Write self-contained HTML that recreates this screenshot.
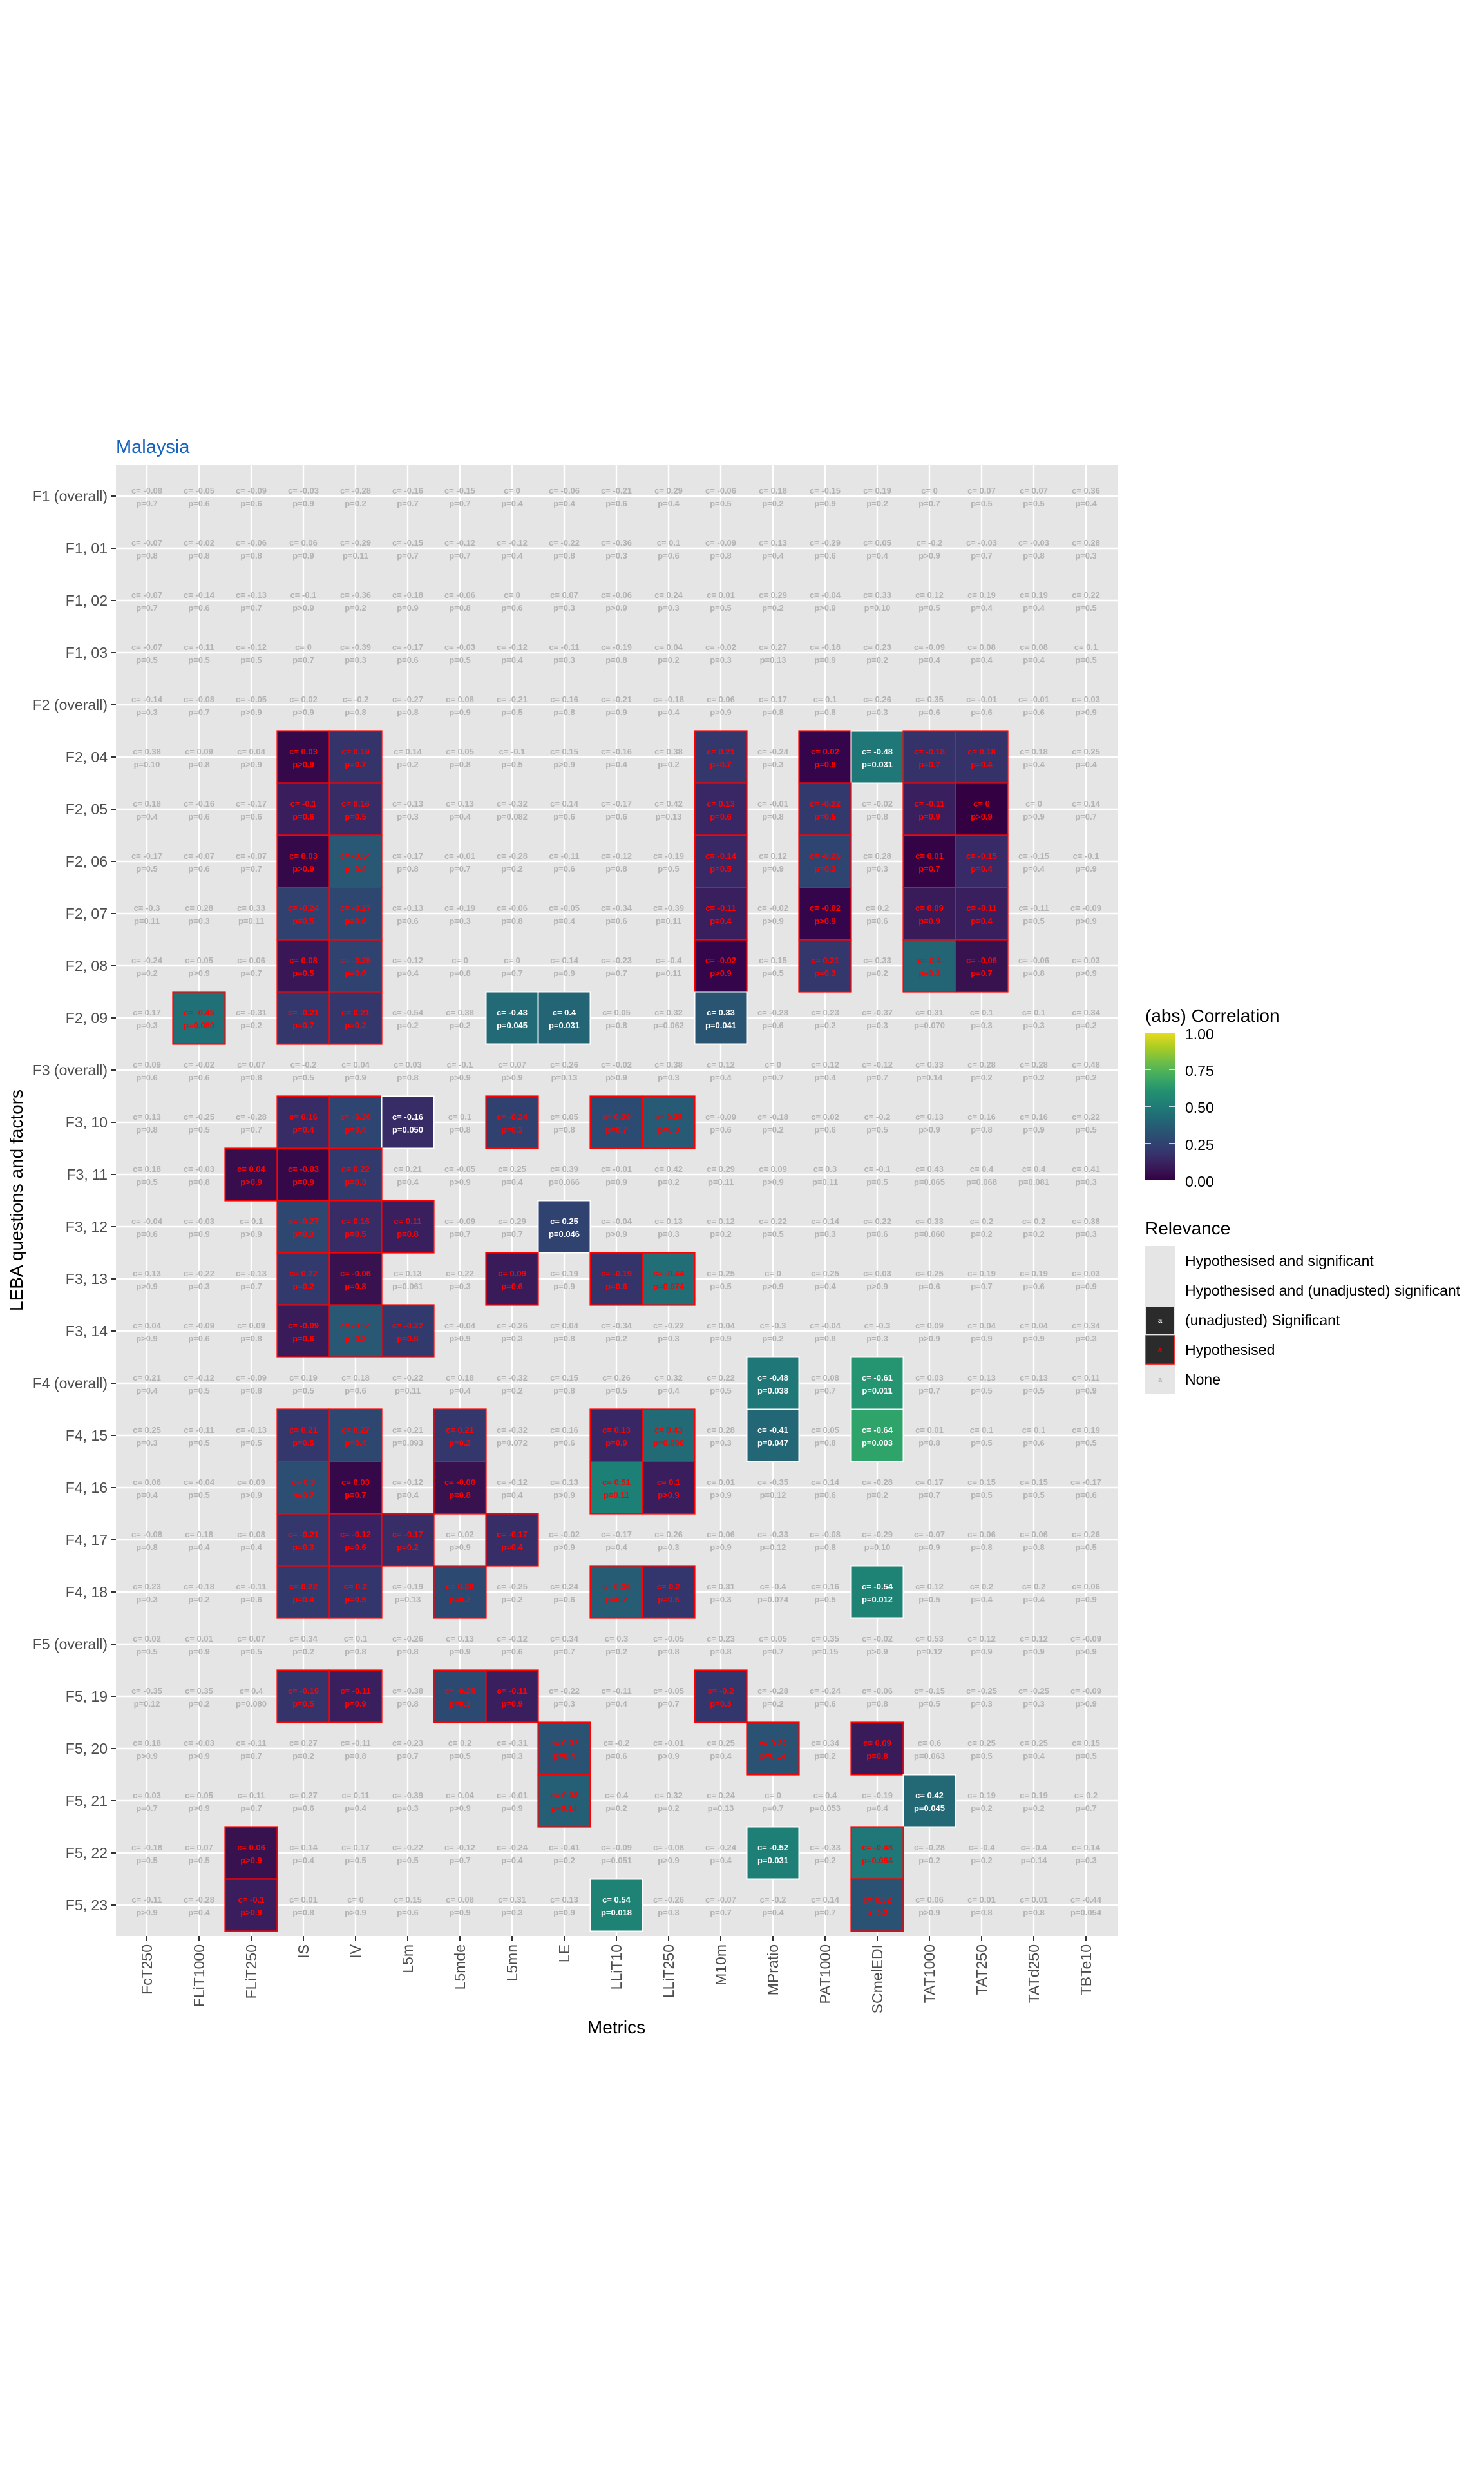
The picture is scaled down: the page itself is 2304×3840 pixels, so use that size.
<!DOCTYPE html>
<html><head><meta charset="utf-8">
<style>
html,body{margin:0;padding:0;background:#fff;}
svg{display:block;}
.g text{font-family:"Liberation Sans",sans-serif;font-size:13px;font-weight:bold;fill:#b3b3b3;text-anchor:middle;}
.g text.r{fill:#ff0000;}
.g text.w{fill:#ffffff;}
.h{stroke:#ff0000;stroke-width:2.2;}
.s{stroke:#ffffff;stroke-width:2;}
.ax{font-family:"Liberation Sans",sans-serif;font-size:23px;fill:#4d4d4d;}
.lg{font-family:"Liberation Sans",sans-serif;fill:#000;}
</style></head><body>
<svg width="2304" height="3840" viewBox="0 0 2304 3840" xmlns="http://www.w3.org/2000/svg">
<rect width="2304" height="3840" fill="#fff"/>
<text x="180" y="703" font-family="Liberation Sans, sans-serif" font-size="29" fill="#1763bd">Malaysia</text>
<rect x="180" y="721" width="1555" height="2284" fill="#e5e5e5"/>
<g stroke="#fff" stroke-width="2.4">
<line x1="228" y1="721" x2="228" y2="3005"/><line x1="309" y1="721" x2="309" y2="3005"/><line x1="390" y1="721" x2="390" y2="3005"/><line x1="471" y1="721" x2="471" y2="3005"/><line x1="552" y1="721" x2="552" y2="3005"/><line x1="633" y1="721" x2="633" y2="3005"/><line x1="714" y1="721" x2="714" y2="3005"/><line x1="795" y1="721" x2="795" y2="3005"/><line x1="876" y1="721" x2="876" y2="3005"/><line x1="957" y1="721" x2="957" y2="3005"/><line x1="1038" y1="721" x2="1038" y2="3005"/><line x1="1119" y1="721" x2="1119" y2="3005"/><line x1="1200" y1="721" x2="1200" y2="3005"/><line x1="1281" y1="721" x2="1281" y2="3005"/><line x1="1362" y1="721" x2="1362" y2="3005"/><line x1="1443" y1="721" x2="1443" y2="3005"/><line x1="1524" y1="721" x2="1524" y2="3005"/><line x1="1605" y1="721" x2="1605" y2="3005"/><line x1="1686" y1="721" x2="1686" y2="3005"/>
<line x1="180" y1="770" x2="1735" y2="770"/><line x1="180" y1="851" x2="1735" y2="851"/><line x1="180" y1="932" x2="1735" y2="932"/><line x1="180" y1="1013" x2="1735" y2="1013"/><line x1="180" y1="1094" x2="1735" y2="1094"/><line x1="180" y1="1175" x2="1735" y2="1175"/><line x1="180" y1="1256" x2="1735" y2="1256"/><line x1="180" y1="1337" x2="1735" y2="1337"/><line x1="180" y1="1418" x2="1735" y2="1418"/><line x1="180" y1="1499" x2="1735" y2="1499"/><line x1="180" y1="1580" x2="1735" y2="1580"/><line x1="180" y1="1661" x2="1735" y2="1661"/><line x1="180" y1="1742" x2="1735" y2="1742"/><line x1="180" y1="1823" x2="1735" y2="1823"/><line x1="180" y1="1904" x2="1735" y2="1904"/><line x1="180" y1="1985" x2="1735" y2="1985"/><line x1="180" y1="2066" x2="1735" y2="2066"/><line x1="180" y1="2147" x2="1735" y2="2147"/><line x1="180" y1="2228" x2="1735" y2="2228"/><line x1="180" y1="2309" x2="1735" y2="2309"/><line x1="180" y1="2390" x2="1735" y2="2390"/><line x1="180" y1="2471" x2="1735" y2="2471"/><line x1="180" y1="2552" x2="1735" y2="2552"/><line x1="180" y1="2633" x2="1735" y2="2633"/><line x1="180" y1="2714" x2="1735" y2="2714"/><line x1="180" y1="2795" x2="1735" y2="2795"/><line x1="180" y1="2876" x2="1735" y2="2876"/><line x1="180" y1="2957" x2="1735" y2="2957"/>
</g>
<!-- tiles -->
<g>
<!-- R5 -->
<rect class="h" x="430.5" y="1134.5" width="81" height="81" fill="#35084a"/><rect class="h" x="511.5" y="1134.5" width="81" height="81" fill="#34336a"/><rect class="h" x="1078.5" y="1134.5" width="81" height="81" fill="#33376c"/><rect class="h" x="1240.5" y="1134.5" width="81" height="81" fill="#34054a"/><rect class="s" x="1321.5" y="1134.5" width="81" height="81" fill="#1f7777"/><rect class="h" x="1402.5" y="1134.5" width="81" height="81" fill="#353169"/><rect class="h" x="1483.5" y="1134.5" width="81" height="81" fill="#353169"/>
<!-- R6 -->
<rect class="h" x="430.5" y="1215.5" width="81" height="81" fill="#3a1d5c"/><rect class="h" x="511.5" y="1215.5" width="81" height="81" fill="#382c67"/><rect class="h" x="1078.5" y="1215.5" width="81" height="81" fill="#392664"/><rect class="h" x="1240.5" y="1215.5" width="81" height="81" fill="#323a6d"/><rect class="h" x="1402.5" y="1215.5" width="81" height="81" fill="#3a1f5e"/><rect class="h" x="1483.5" y="1215.5" width="81" height="81" fill="#330042"/>
<!-- R7 -->
<rect class="h" x="430.5" y="1296.5" width="81" height="81" fill="#35084a"/><rect class="h" x="511.5" y="1296.5" width="81" height="81" fill="#285874"/><rect class="h" x="1078.5" y="1296.5" width="81" height="81" fill="#382866"/><rect class="h" x="1240.5" y="1296.5" width="81" height="81" fill="#2e4471"/><rect class="h" x="1402.5" y="1296.5" width="81" height="81" fill="#330345"/><rect class="h" x="1483.5" y="1296.5" width="81" height="81" fill="#382a66"/>
<!-- R8 -->
<rect class="h" x="430.5" y="1377.5" width="81" height="81" fill="#30406f"/><rect class="h" x="511.5" y="1377.5" width="81" height="81" fill="#2d4771"/><rect class="h" x="1078.5" y="1377.5" width="81" height="81" fill="#3a1f5e"/><rect class="h" x="1240.5" y="1377.5" width="81" height="81" fill="#34054a"/><rect class="h" x="1402.5" y="1377.5" width="81" height="81" fill="#3a1b5a"/><rect class="h" x="1483.5" y="1377.5" width="81" height="81" fill="#3a1f5e"/>
<!-- R9 -->
<rect class="h" x="430.5" y="1458.5" width="81" height="81" fill="#391756"/><rect class="h" x="511.5" y="1458.5" width="81" height="81" fill="#2f4270"/><rect class="h" x="1078.5" y="1458.5" width="81" height="81" fill="#34054a"/><rect class="h" x="1240.5" y="1458.5" width="81" height="81" fill="#33376c"/><rect class="h" x="1402.5" y="1458.5" width="81" height="81" fill="#236475"/><rect class="h" x="1483.5" y="1458.5" width="81" height="81" fill="#38124f"/>
<!-- R10 -->
<rect class="h" x="268.5" y="1539.5" width="81" height="81" fill="#207077"/><rect class="h" x="430.5" y="1539.5" width="81" height="81" fill="#33376c"/><rect class="h" x="511.5" y="1539.5" width="81" height="81" fill="#33376c"/><rect class="s" x="754.5" y="1539.5" width="81" height="81" fill="#226a76"/><rect class="s" x="835.5" y="1539.5" width="81" height="81" fill="#236475"/><rect class="s" x="1078.5" y="1539.5" width="81" height="81" fill="#295572"/>
<!-- R12 -->
<rect class="h" x="430.5" y="1701.5" width="81" height="81" fill="#382c67"/><rect class="h" x="511.5" y="1701.5" width="81" height="81" fill="#2e4471"/><rect class="s" x="592.5" y="1701.5" width="81" height="81" fill="#382c67"/><rect class="h" x="754.5" y="1701.5" width="81" height="81" fill="#30406f"/><rect class="h" x="916.5" y="1701.5" width="81" height="81" fill="#2c4b72"/><rect class="h" x="997.5" y="1701.5" width="81" height="81" fill="#275a74"/>
<!-- R13 -->
<rect class="h" x="349.5" y="1782.5" width="81" height="81" fill="#370d4d"/><rect class="h" x="430.5" y="1782.5" width="81" height="81" fill="#35084a"/><rect class="h" x="511.5" y="1782.5" width="81" height="81" fill="#323a6d"/>
<!-- R14 -->
<rect class="h" x="430.5" y="1863.5" width="81" height="81" fill="#2d4771"/><rect class="h" x="511.5" y="1863.5" width="81" height="81" fill="#382c67"/><rect class="h" x="592.5" y="1863.5" width="81" height="81" fill="#3a1f5e"/><rect class="s" x="835.5" y="1863.5" width="81" height="81" fill="#2f4270"/>
<!-- R15 -->
<rect class="h" x="430.5" y="1944.5" width="81" height="81" fill="#323a6d"/><rect class="h" x="511.5" y="1944.5" width="81" height="81" fill="#38124f"/><rect class="h" x="754.5" y="1944.5" width="81" height="81" fill="#3a1b5a"/><rect class="h" x="916.5" y="1944.5" width="81" height="81" fill="#34336a"/><rect class="h" x="997.5" y="1944.5" width="81" height="81" fill="#216e77"/>
<!-- R16 -->
<rect class="h" x="430.5" y="2025.5" width="81" height="81" fill="#3a1b5a"/><rect class="h" x="511.5" y="2025.5" width="81" height="81" fill="#285874"/><rect class="h" x="592.5" y="2025.5" width="81" height="81" fill="#323a6d"/>
<!-- R17 -->
<rect class="s" x="1159.5" y="2106.5" width="81" height="81" fill="#1f7777"/><rect class="s" x="1321.5" y="2106.5" width="81" height="81" fill="#259470"/>
<!-- R18 -->
<rect class="h" x="430.5" y="2187.5" width="81" height="81" fill="#33376c"/><rect class="h" x="511.5" y="2187.5" width="81" height="81" fill="#2d4771"/><rect class="h" x="673.5" y="2187.5" width="81" height="81" fill="#33376c"/><rect class="h" x="916.5" y="2187.5" width="81" height="81" fill="#392664"/><rect class="h" x="997.5" y="2187.5" width="81" height="81" fill="#226a76"/><rect class="s" x="1159.5" y="2187.5" width="81" height="81" fill="#236675"/><rect class="s" x="1321.5" y="2187.5" width="81" height="81" fill="#2ea36a"/>
<!-- R19 -->
<rect class="h" x="430.5" y="2268.5" width="81" height="81" fill="#2b4e72"/><rect class="h" x="511.5" y="2268.5" width="81" height="81" fill="#35084a"/><rect class="h" x="673.5" y="2268.5" width="81" height="81" fill="#38124f"/><rect class="h" x="916.5" y="2268.5" width="81" height="81" fill="#1d8076"/><rect class="h" x="997.5" y="2268.5" width="81" height="81" fill="#3a1d5c"/>
<!-- R20 -->
<rect class="h" x="430.5" y="2349.5" width="81" height="81" fill="#33376c"/><rect class="h" x="511.5" y="2349.5" width="81" height="81" fill="#392264"/><rect class="h" x="592.5" y="2349.5" width="81" height="81" fill="#372e68"/><rect class="h" x="754.5" y="2349.5" width="81" height="81" fill="#372e68"/>
<!-- R21 -->
<rect class="h" x="430.5" y="2430.5" width="81" height="81" fill="#323a6d"/><rect class="h" x="511.5" y="2430.5" width="81" height="81" fill="#33366c"/><rect class="h" x="673.5" y="2430.5" width="81" height="81" fill="#2c4972"/><rect class="h" x="916.5" y="2430.5" width="81" height="81" fill="#265c74"/><rect class="h" x="997.5" y="2430.5" width="81" height="81" fill="#33366c"/><rect class="s" x="1321.5" y="2430.5" width="81" height="81" fill="#1e8374"/>
<!-- R23 -->
<rect class="h" x="430.5" y="2592.5" width="81" height="81" fill="#34336a"/><rect class="h" x="511.5" y="2592.5" width="81" height="81" fill="#3a1f5e"/><rect class="h" x="673.5" y="2592.5" width="81" height="81" fill="#2c4972"/><rect class="h" x="754.5" y="2592.5" width="81" height="81" fill="#3a1f5e"/><rect class="h" x="1078.5" y="2592.5" width="81" height="81" fill="#33366c"/>
<!-- R24 -->
<rect class="h" x="835.5" y="2673.5" width="81" height="81" fill="#2a5273"/><rect class="h" x="1159.5" y="2673.5" width="81" height="81" fill="#2a5273"/><rect class="h" x="1321.5" y="2673.5" width="81" height="81" fill="#3a1b5a"/>
<!-- R25 -->
<rect class="h" x="835.5" y="2754.5" width="81" height="81" fill="#245f75"/><rect class="s" x="1402.5" y="2754.5" width="81" height="81" fill="#226875"/>
<!-- R26 -->
<rect class="h" x="349.5" y="2835.5" width="81" height="81" fill="#38124f"/><rect class="s" x="1159.5" y="2835.5" width="81" height="81" fill="#1e7f76"/><rect class="h" x="1321.5" y="2835.5" width="81" height="81" fill="#1f7777"/>
<!-- R27 -->
<rect class="h" x="349.5" y="2916.5" width="81" height="81" fill="#3a1d5c"/><rect class="s" x="916.5" y="2916.5" width="81" height="81" fill="#1e8374"/><rect class="h" x="1321.5" y="2916.5" width="81" height="81" fill="#2a5273"/>
</g>
<!-- cell texts -->
<g class="g">
<g transform="translate(0,770)">
<text x="228" y="-4">c= -0.08</text><text x="228" y="16">p=0.7</text><text x="309" y="-4">c= -0.05</text><text x="309" y="16">p=0.6</text><text x="390" y="-4">c= -0.09</text><text x="390" y="16">p=0.6</text><text x="471" y="-4">c= -0.03</text><text x="471" y="16">p=0.9</text><text x="552" y="-4">c= -0.28</text><text x="552" y="16">p=0.2</text><text x="633" y="-4">c= -0.16</text><text x="633" y="16">p=0.7</text><text x="714" y="-4">c= -0.15</text><text x="714" y="16">p=0.7</text><text x="795" y="-4">c= 0</text><text x="795" y="16">p=0.4</text><text x="876" y="-4">c= -0.06</text><text x="876" y="16">p=0.4</text><text x="957" y="-4">c= -0.21</text><text x="957" y="16">p=0.6</text><text x="1038" y="-4">c= 0.29</text><text x="1038" y="16">p=0.4</text><text x="1119" y="-4">c= -0.06</text><text x="1119" y="16">p=0.5</text><text x="1200" y="-4">c= 0.18</text><text x="1200" y="16">p=0.2</text><text x="1281" y="-4">c= -0.15</text><text x="1281" y="16">p=0.9</text><text x="1362" y="-4">c= 0.19</text><text x="1362" y="16">p=0.2</text><text x="1443" y="-4">c= 0</text><text x="1443" y="16">p=0.7</text><text x="1524" y="-4">c= 0.07</text><text x="1524" y="16">p=0.5</text><text x="1605" y="-4">c= 0.07</text><text x="1605" y="16">p=0.5</text><text x="1686" y="-4">c= 0.36</text><text x="1686" y="16">p=0.4</text>
</g>
<g transform="translate(0,851)">
<text x="228" y="-4">c= -0.07</text><text x="228" y="16">p=0.8</text><text x="309" y="-4">c= -0.02</text><text x="309" y="16">p=0.8</text><text x="390" y="-4">c= -0.06</text><text x="390" y="16">p=0.8</text><text x="471" y="-4">c= 0.06</text><text x="471" y="16">p=0.9</text><text x="552" y="-4">c= -0.29</text><text x="552" y="16">p=0.11</text><text x="633" y="-4">c= -0.15</text><text x="633" y="16">p=0.7</text><text x="714" y="-4">c= -0.12</text><text x="714" y="16">p=0.7</text><text x="795" y="-4">c= -0.12</text><text x="795" y="16">p=0.4</text><text x="876" y="-4">c= -0.22</text><text x="876" y="16">p=0.8</text><text x="957" y="-4">c= -0.36</text><text x="957" y="16">p=0.3</text><text x="1038" y="-4">c= 0.1</text><text x="1038" y="16">p=0.6</text><text x="1119" y="-4">c= -0.09</text><text x="1119" y="16">p=0.8</text><text x="1200" y="-4">c= 0.13</text><text x="1200" y="16">p=0.4</text><text x="1281" y="-4">c= -0.29</text><text x="1281" y="16">p=0.6</text><text x="1362" y="-4">c= 0.05</text><text x="1362" y="16">p=0.4</text><text x="1443" y="-4">c= -0.2</text><text x="1443" y="16">p&gt;0.9</text><text x="1524" y="-4">c= -0.03</text><text x="1524" y="16">p=0.7</text><text x="1605" y="-4">c= -0.03</text><text x="1605" y="16">p=0.8</text><text x="1686" y="-4">c= 0.28</text><text x="1686" y="16">p=0.3</text>
</g>
<g transform="translate(0,932)">
<text x="228" y="-4">c= -0.07</text><text x="228" y="16">p=0.7</text><text x="309" y="-4">c= -0.14</text><text x="309" y="16">p=0.6</text><text x="390" y="-4">c= -0.13</text><text x="390" y="16">p=0.7</text><text x="471" y="-4">c= -0.1</text><text x="471" y="16">p&gt;0.9</text><text x="552" y="-4">c= -0.36</text><text x="552" y="16">p=0.2</text><text x="633" y="-4">c= -0.18</text><text x="633" y="16">p=0.9</text><text x="714" y="-4">c= -0.06</text><text x="714" y="16">p=0.8</text><text x="795" y="-4">c= 0</text><text x="795" y="16">p=0.6</text><text x="876" y="-4">c= 0.07</text><text x="876" y="16">p=0.3</text><text x="957" y="-4">c= -0.06</text><text x="957" y="16">p&gt;0.9</text><text x="1038" y="-4">c= 0.24</text><text x="1038" y="16">p=0.3</text><text x="1119" y="-4">c= 0.01</text><text x="1119" y="16">p=0.5</text><text x="1200" y="-4">c= 0.29</text><text x="1200" y="16">p=0.2</text><text x="1281" y="-4">c= -0.04</text><text x="1281" y="16">p&gt;0.9</text><text x="1362" y="-4">c= 0.33</text><text x="1362" y="16">p=0.10</text><text x="1443" y="-4">c= 0.12</text><text x="1443" y="16">p=0.5</text><text x="1524" y="-4">c= 0.19</text><text x="1524" y="16">p=0.4</text><text x="1605" y="-4">c= 0.19</text><text x="1605" y="16">p=0.4</text><text x="1686" y="-4">c= 0.22</text><text x="1686" y="16">p=0.5</text>
</g>
<g transform="translate(0,1013)">
<text x="228" y="-4">c= -0.07</text><text x="228" y="16">p=0.5</text><text x="309" y="-4">c= -0.11</text><text x="309" y="16">p=0.5</text><text x="390" y="-4">c= -0.12</text><text x="390" y="16">p=0.5</text><text x="471" y="-4">c= 0</text><text x="471" y="16">p=0.7</text><text x="552" y="-4">c= -0.39</text><text x="552" y="16">p=0.3</text><text x="633" y="-4">c= -0.17</text><text x="633" y="16">p=0.6</text><text x="714" y="-4">c= -0.03</text><text x="714" y="16">p=0.5</text><text x="795" y="-4">c= -0.12</text><text x="795" y="16">p=0.4</text><text x="876" y="-4">c= -0.11</text><text x="876" y="16">p=0.3</text><text x="957" y="-4">c= -0.19</text><text x="957" y="16">p=0.8</text><text x="1038" y="-4">c= 0.04</text><text x="1038" y="16">p=0.2</text><text x="1119" y="-4">c= -0.02</text><text x="1119" y="16">p=0.3</text><text x="1200" y="-4">c= 0.27</text><text x="1200" y="16">p=0.13</text><text x="1281" y="-4">c= -0.18</text><text x="1281" y="16">p=0.9</text><text x="1362" y="-4">c= 0.23</text><text x="1362" y="16">p=0.2</text><text x="1443" y="-4">c= -0.09</text><text x="1443" y="16">p=0.4</text><text x="1524" y="-4">c= 0.08</text><text x="1524" y="16">p=0.4</text><text x="1605" y="-4">c= 0.08</text><text x="1605" y="16">p=0.4</text><text x="1686" y="-4">c= 0.1</text><text x="1686" y="16">p=0.5</text>
</g>
<g transform="translate(0,1094)">
<text x="228" y="-4">c= -0.14</text><text x="228" y="16">p=0.3</text><text x="309" y="-4">c= -0.08</text><text x="309" y="16">p=0.7</text><text x="390" y="-4">c= -0.05</text><text x="390" y="16">p&gt;0.9</text><text x="471" y="-4">c= 0.02</text><text x="471" y="16">p&gt;0.9</text><text x="552" y="-4">c= -0.2</text><text x="552" y="16">p=0.8</text><text x="633" y="-4">c= -0.27</text><text x="633" y="16">p=0.8</text><text x="714" y="-4">c= 0.08</text><text x="714" y="16">p=0.9</text><text x="795" y="-4">c= -0.21</text><text x="795" y="16">p=0.5</text><text x="876" y="-4">c= 0.16</text><text x="876" y="16">p=0.8</text><text x="957" y="-4">c= -0.21</text><text x="957" y="16">p=0.9</text><text x="1038" y="-4">c= -0.18</text><text x="1038" y="16">p=0.4</text><text x="1119" y="-4">c= 0.06</text><text x="1119" y="16">p&gt;0.9</text><text x="1200" y="-4">c= 0.17</text><text x="1200" y="16">p=0.8</text><text x="1281" y="-4">c= 0.1</text><text x="1281" y="16">p=0.8</text><text x="1362" y="-4">c= 0.26</text><text x="1362" y="16">p=0.3</text><text x="1443" y="-4">c= 0.35</text><text x="1443" y="16">p=0.6</text><text x="1524" y="-4">c= -0.01</text><text x="1524" y="16">p=0.6</text><text x="1605" y="-4">c= -0.01</text><text x="1605" y="16">p=0.6</text><text x="1686" y="-4">c= 0.03</text><text x="1686" y="16">p&gt;0.9</text>
</g>
<g transform="translate(0,1175)">
<text x="228" y="-4">c= 0.38</text><text x="228" y="16">p=0.10</text><text x="309" y="-4">c= 0.09</text><text x="309" y="16">p=0.8</text><text x="390" y="-4">c= 0.04</text><text x="390" y="16">p&gt;0.9</text><text class="r" x="471" y="-4">c= 0.03</text><text class="r" x="471" y="16">p&gt;0.9</text><text class="r" x="552" y="-4">c= 0.19</text><text class="r" x="552" y="16">p=0.7</text><text x="633" y="-4">c= 0.14</text><text x="633" y="16">p=0.2</text><text x="714" y="-4">c= 0.05</text><text x="714" y="16">p=0.8</text><text x="795" y="-4">c= -0.1</text><text x="795" y="16">p=0.5</text><text x="876" y="-4">c= 0.15</text><text x="876" y="16">p&gt;0.9</text><text x="957" y="-4">c= -0.16</text><text x="957" y="16">p=0.4</text><text x="1038" y="-4">c= 0.38</text><text x="1038" y="16">p=0.2</text><text class="r" x="1119" y="-4">c= 0.21</text><text class="r" x="1119" y="16">p=0.7</text><text x="1200" y="-4">c= -0.24</text><text x="1200" y="16">p=0.3</text><text class="r" x="1281" y="-4">c= 0.02</text><text class="r" x="1281" y="16">p=0.8</text><text class="w" x="1362" y="-4">c= -0.48</text><text class="w" x="1362" y="16">p=0.031</text><text class="r" x="1443" y="-4">c= -0.18</text><text class="r" x="1443" y="16">p=0.7</text><text class="r" x="1524" y="-4">c= 0.18</text><text class="r" x="1524" y="16">p=0.4</text><text x="1605" y="-4">c= 0.18</text><text x="1605" y="16">p=0.4</text><text x="1686" y="-4">c= 0.25</text><text x="1686" y="16">p=0.4</text>
</g>
<g transform="translate(0,1256)">
<text x="228" y="-4">c= 0.18</text><text x="228" y="16">p=0.4</text><text x="309" y="-4">c= -0.16</text><text x="309" y="16">p=0.6</text><text x="390" y="-4">c= -0.17</text><text x="390" y="16">p=0.6</text><text class="r" x="471" y="-4">c= -0.1</text><text class="r" x="471" y="16">p=0.6</text><text class="r" x="552" y="-4">c= 0.16</text><text class="r" x="552" y="16">p=0.5</text><text x="633" y="-4">c= -0.13</text><text x="633" y="16">p=0.3</text><text x="714" y="-4">c= 0.13</text><text x="714" y="16">p=0.4</text><text x="795" y="-4">c= -0.32</text><text x="795" y="16">p=0.082</text><text x="876" y="-4">c= 0.14</text><text x="876" y="16">p=0.6</text><text x="957" y="-4">c= -0.17</text><text x="957" y="16">p=0.6</text><text x="1038" y="-4">c= 0.42</text><text x="1038" y="16">p=0.13</text><text class="r" x="1119" y="-4">c= 0.13</text><text class="r" x="1119" y="16">p=0.6</text><text x="1200" y="-4">c= -0.01</text><text x="1200" y="16">p=0.8</text><text class="r" x="1281" y="-4">c= -0.22</text><text class="r" x="1281" y="16">p=0.5</text><text x="1362" y="-4">c= -0.02</text><text x="1362" y="16">p=0.8</text><text class="r" x="1443" y="-4">c= -0.11</text><text class="r" x="1443" y="16">p=0.9</text><text class="r" x="1524" y="-4">c= 0</text><text class="r" x="1524" y="16">p&gt;0.9</text><text x="1605" y="-4">c= 0</text><text x="1605" y="16">p&gt;0.9</text><text x="1686" y="-4">c= 0.14</text><text x="1686" y="16">p=0.7</text>
</g>
<g transform="translate(0,1337)">
<text x="228" y="-4">c= -0.17</text><text x="228" y="16">p=0.5</text><text x="309" y="-4">c= -0.07</text><text x="309" y="16">p=0.6</text><text x="390" y="-4">c= -0.07</text><text x="390" y="16">p=0.7</text><text class="r" x="471" y="-4">c= 0.03</text><text class="r" x="471" y="16">p&gt;0.9</text><text class="r" x="552" y="-4">c= -0.34</text><text class="r" x="552" y="16">p=0.4</text><text x="633" y="-4">c= -0.17</text><text x="633" y="16">p=0.8</text><text x="714" y="-4">c= -0.01</text><text x="714" y="16">p=0.7</text><text x="795" y="-4">c= -0.28</text><text x="795" y="16">p=0.2</text><text x="876" y="-4">c= -0.11</text><text x="876" y="16">p=0.6</text><text x="957" y="-4">c= -0.12</text><text x="957" y="16">p=0.8</text><text x="1038" y="-4">c= -0.19</text><text x="1038" y="16">p=0.5</text><text class="r" x="1119" y="-4">c= -0.14</text><text class="r" x="1119" y="16">p=0.5</text><text x="1200" y="-4">c= 0.12</text><text x="1200" y="16">p=0.9</text><text class="r" x="1281" y="-4">c= -0.26</text><text class="r" x="1281" y="16">p=0.3</text><text x="1362" y="-4">c= 0.28</text><text x="1362" y="16">p=0.3</text><text class="r" x="1443" y="-4">c= 0.01</text><text class="r" x="1443" y="16">p=0.7</text><text class="r" x="1524" y="-4">c= -0.15</text><text class="r" x="1524" y="16">p=0.4</text><text x="1605" y="-4">c= -0.15</text><text x="1605" y="16">p=0.4</text><text x="1686" y="-4">c= -0.1</text><text x="1686" y="16">p=0.9</text>
</g>
<g transform="translate(0,1418)">
<text x="228" y="-4">c= -0.3</text><text x="228" y="16">p=0.11</text><text x="309" y="-4">c= 0.28</text><text x="309" y="16">p=0.3</text><text x="390" y="-4">c= 0.33</text><text x="390" y="16">p=0.11</text><text class="r" x="471" y="-4">c= -0.24</text><text class="r" x="471" y="16">p=0.5</text><text class="r" x="552" y="-4">c= -0.27</text><text class="r" x="552" y="16">p=0.6</text><text x="633" y="-4">c= -0.13</text><text x="633" y="16">p=0.6</text><text x="714" y="-4">c= -0.19</text><text x="714" y="16">p=0.3</text><text x="795" y="-4">c= -0.06</text><text x="795" y="16">p=0.8</text><text x="876" y="-4">c= -0.05</text><text x="876" y="16">p=0.4</text><text x="957" y="-4">c= -0.34</text><text x="957" y="16">p=0.6</text><text x="1038" y="-4">c= -0.39</text><text x="1038" y="16">p=0.11</text><text class="r" x="1119" y="-4">c= -0.11</text><text class="r" x="1119" y="16">p=0.4</text><text x="1200" y="-4">c= -0.02</text><text x="1200" y="16">p&gt;0.9</text><text class="r" x="1281" y="-4">c= -0.02</text><text class="r" x="1281" y="16">p&gt;0.9</text><text x="1362" y="-4">c= 0.2</text><text x="1362" y="16">p=0.6</text><text class="r" x="1443" y="-4">c= 0.09</text><text class="r" x="1443" y="16">p=0.9</text><text class="r" x="1524" y="-4">c= -0.11</text><text class="r" x="1524" y="16">p=0.4</text><text x="1605" y="-4">c= -0.11</text><text x="1605" y="16">p=0.5</text><text x="1686" y="-4">c= -0.09</text><text x="1686" y="16">p&gt;0.9</text>
</g>
<g transform="translate(0,1499)">
<text x="228" y="-4">c= -0.24</text><text x="228" y="16">p=0.2</text><text x="309" y="-4">c= 0.05</text><text x="309" y="16">p&gt;0.9</text><text x="390" y="-4">c= 0.06</text><text x="390" y="16">p=0.7</text><text class="r" x="471" y="-4">c= 0.08</text><text class="r" x="471" y="16">p=0.5</text><text class="r" x="552" y="-4">c= -0.25</text><text class="r" x="552" y="16">p=0.6</text><text x="633" y="-4">c= -0.12</text><text x="633" y="16">p=0.4</text><text x="714" y="-4">c= 0</text><text x="714" y="16">p=0.8</text><text x="795" y="-4">c= 0</text><text x="795" y="16">p=0.7</text><text x="876" y="-4">c= 0.14</text><text x="876" y="16">p=0.9</text><text x="957" y="-4">c= -0.23</text><text x="957" y="16">p=0.7</text><text x="1038" y="-4">c= -0.4</text><text x="1038" y="16">p=0.11</text><text class="r" x="1119" y="-4">c= -0.02</text><text class="r" x="1119" y="16">p&gt;0.9</text><text x="1200" y="-4">c= 0.15</text><text x="1200" y="16">p=0.5</text><text class="r" x="1281" y="-4">c= 0.21</text><text class="r" x="1281" y="16">p=0.3</text><text x="1362" y="-4">c= 0.33</text><text x="1362" y="16">p=0.2</text><text class="r" x="1443" y="-4">c= 0.4</text><text class="r" x="1443" y="16">p=0.3</text><text class="r" x="1524" y="-4">c= -0.06</text><text class="r" x="1524" y="16">p=0.7</text><text x="1605" y="-4">c= -0.06</text><text x="1605" y="16">p=0.8</text><text x="1686" y="-4">c= 0.03</text><text x="1686" y="16">p&gt;0.9</text>
</g>
<g transform="translate(0,1580)">
<text x="228" y="-4">c= 0.17</text><text x="228" y="16">p=0.3</text><text class="r" x="309" y="-4">c= -0.45</text><text class="r" x="309" y="16">p=0.080</text><text x="390" y="-4">c= -0.31</text><text x="390" y="16">p=0.2</text><text class="r" x="471" y="-4">c= -0.21</text><text class="r" x="471" y="16">p=0.7</text><text class="r" x="552" y="-4">c= 0.21</text><text class="r" x="552" y="16">p=0.2</text><text x="633" y="-4">c= -0.54</text><text x="633" y="16">p=0.2</text><text x="714" y="-4">c= 0.38</text><text x="714" y="16">p=0.2</text><text class="w" x="795" y="-4">c= -0.43</text><text class="w" x="795" y="16">p=0.045</text><text class="w" x="876" y="-4">c= 0.4</text><text class="w" x="876" y="16">p=0.031</text><text x="957" y="-4">c= 0.05</text><text x="957" y="16">p=0.8</text><text x="1038" y="-4">c= 0.32</text><text x="1038" y="16">p=0.062</text><text class="w" x="1119" y="-4">c= 0.33</text><text class="w" x="1119" y="16">p=0.041</text><text x="1200" y="-4">c= -0.28</text><text x="1200" y="16">p=0.6</text><text x="1281" y="-4">c= 0.23</text><text x="1281" y="16">p=0.2</text><text x="1362" y="-4">c= -0.37</text><text x="1362" y="16">p=0.3</text><text x="1443" y="-4">c= 0.31</text><text x="1443" y="16">p=0.070</text><text x="1524" y="-4">c= 0.1</text><text x="1524" y="16">p=0.3</text><text x="1605" y="-4">c= 0.1</text><text x="1605" y="16">p=0.3</text><text x="1686" y="-4">c= 0.34</text><text x="1686" y="16">p=0.2</text>
</g>
<g transform="translate(0,1661)">
<text x="228" y="-4">c= 0.09</text><text x="228" y="16">p=0.6</text><text x="309" y="-4">c= -0.02</text><text x="309" y="16">p=0.6</text><text x="390" y="-4">c= 0.07</text><text x="390" y="16">p=0.8</text><text x="471" y="-4">c= -0.2</text><text x="471" y="16">p=0.5</text><text x="552" y="-4">c= 0.04</text><text x="552" y="16">p=0.9</text><text x="633" y="-4">c= 0.03</text><text x="633" y="16">p=0.8</text><text x="714" y="-4">c= -0.1</text><text x="714" y="16">p&gt;0.9</text><text x="795" y="-4">c= 0.07</text><text x="795" y="16">p&gt;0.9</text><text x="876" y="-4">c= 0.26</text><text x="876" y="16">p=0.13</text><text x="957" y="-4">c= -0.02</text><text x="957" y="16">p&gt;0.9</text><text x="1038" y="-4">c= 0.38</text><text x="1038" y="16">p=0.3</text><text x="1119" y="-4">c= 0.12</text><text x="1119" y="16">p=0.4</text><text x="1200" y="-4">c= 0</text><text x="1200" y="16">p=0.7</text><text x="1281" y="-4">c= 0.12</text><text x="1281" y="16">p=0.4</text><text x="1362" y="-4">c= -0.12</text><text x="1362" y="16">p=0.7</text><text x="1443" y="-4">c= 0.33</text><text x="1443" y="16">p=0.14</text><text x="1524" y="-4">c= 0.28</text><text x="1524" y="16">p=0.2</text><text x="1605" y="-4">c= 0.28</text><text x="1605" y="16">p=0.2</text><text x="1686" y="-4">c= 0.48</text><text x="1686" y="16">p=0.2</text>
</g>
<g transform="translate(0,1742)">
<text x="228" y="-4">c= 0.13</text><text x="228" y="16">p=0.8</text><text x="309" y="-4">c= -0.25</text><text x="309" y="16">p=0.5</text><text x="390" y="-4">c= -0.28</text><text x="390" y="16">p=0.7</text><text class="r" x="471" y="-4">c= 0.16</text><text class="r" x="471" y="16">p=0.4</text><text class="r" x="552" y="-4">c= -0.26</text><text class="r" x="552" y="16">p=0.4</text><text class="w" x="633" y="-4">c= -0.16</text><text class="w" x="633" y="16">p=0.050</text><text x="714" y="-4">c= 0.1</text><text x="714" y="16">p=0.8</text><text class="r" x="795" y="-4">c= -0.24</text><text class="r" x="795" y="16">p=0.3</text><text x="876" y="-4">c= 0.05</text><text x="876" y="16">p=0.8</text><text class="r" x="957" y="-4">c= 0.29</text><text class="r" x="957" y="16">p=0.7</text><text class="r" x="1038" y="-4">c= 0.35</text><text class="r" x="1038" y="16">p=0.3</text><text x="1119" y="-4">c= -0.09</text><text x="1119" y="16">p=0.6</text><text x="1200" y="-4">c= -0.18</text><text x="1200" y="16">p=0.2</text><text x="1281" y="-4">c= 0.02</text><text x="1281" y="16">p=0.6</text><text x="1362" y="-4">c= -0.2</text><text x="1362" y="16">p=0.5</text><text x="1443" y="-4">c= 0.13</text><text x="1443" y="16">p&gt;0.9</text><text x="1524" y="-4">c= 0.16</text><text x="1524" y="16">p=0.8</text><text x="1605" y="-4">c= 0.16</text><text x="1605" y="16">p=0.9</text><text x="1686" y="-4">c= 0.22</text><text x="1686" y="16">p=0.5</text>
</g>
<g transform="translate(0,1823)">
<text x="228" y="-4">c= 0.18</text><text x="228" y="16">p=0.5</text><text x="309" y="-4">c= -0.03</text><text x="309" y="16">p=0.8</text><text class="r" x="390" y="-4">c= 0.04</text><text class="r" x="390" y="16">p&gt;0.9</text><text class="r" x="471" y="-4">c= -0.03</text><text class="r" x="471" y="16">p=0.9</text><text class="r" x="552" y="-4">c= 0.22</text><text class="r" x="552" y="16">p=0.3</text><text x="633" y="-4">c= 0.21</text><text x="633" y="16">p=0.4</text><text x="714" y="-4">c= -0.05</text><text x="714" y="16">p&gt;0.9</text><text x="795" y="-4">c= 0.25</text><text x="795" y="16">p=0.4</text><text x="876" y="-4">c= 0.39</text><text x="876" y="16">p=0.066</text><text x="957" y="-4">c= -0.01</text><text x="957" y="16">p=0.9</text><text x="1038" y="-4">c= 0.42</text><text x="1038" y="16">p=0.2</text><text x="1119" y="-4">c= 0.29</text><text x="1119" y="16">p=0.11</text><text x="1200" y="-4">c= 0.09</text><text x="1200" y="16">p&gt;0.9</text><text x="1281" y="-4">c= 0.3</text><text x="1281" y="16">p=0.11</text><text x="1362" y="-4">c= -0.1</text><text x="1362" y="16">p=0.5</text><text x="1443" y="-4">c= 0.43</text><text x="1443" y="16">p=0.065</text><text x="1524" y="-4">c= 0.4</text><text x="1524" y="16">p=0.068</text><text x="1605" y="-4">c= 0.4</text><text x="1605" y="16">p=0.081</text><text x="1686" y="-4">c= 0.41</text><text x="1686" y="16">p=0.3</text>
</g>
<g transform="translate(0,1904)">
<text x="228" y="-4">c= -0.04</text><text x="228" y="16">p=0.6</text><text x="309" y="-4">c= -0.03</text><text x="309" y="16">p=0.9</text><text x="390" y="-4">c= 0.1</text><text x="390" y="16">p&gt;0.9</text><text class="r" x="471" y="-4">c= -0.27</text><text class="r" x="471" y="16">p=0.3</text><text class="r" x="552" y="-4">c= 0.16</text><text class="r" x="552" y="16">p=0.5</text><text class="r" x="633" y="-4">c= 0.11</text><text class="r" x="633" y="16">p=0.8</text><text x="714" y="-4">c= -0.09</text><text x="714" y="16">p=0.7</text><text x="795" y="-4">c= 0.29</text><text x="795" y="16">p=0.7</text><text class="w" x="876" y="-4">c= 0.25</text><text class="w" x="876" y="16">p=0.046</text><text x="957" y="-4">c= -0.04</text><text x="957" y="16">p&gt;0.9</text><text x="1038" y="-4">c= 0.13</text><text x="1038" y="16">p=0.3</text><text x="1119" y="-4">c= 0.12</text><text x="1119" y="16">p=0.2</text><text x="1200" y="-4">c= 0.22</text><text x="1200" y="16">p=0.5</text><text x="1281" y="-4">c= 0.14</text><text x="1281" y="16">p=0.3</text><text x="1362" y="-4">c= 0.22</text><text x="1362" y="16">p=0.6</text><text x="1443" y="-4">c= 0.33</text><text x="1443" y="16">p=0.060</text><text x="1524" y="-4">c= 0.2</text><text x="1524" y="16">p=0.2</text><text x="1605" y="-4">c= 0.2</text><text x="1605" y="16">p=0.2</text><text x="1686" y="-4">c= 0.38</text><text x="1686" y="16">p=0.3</text>
</g>
<g transform="translate(0,1985)">
<text x="228" y="-4">c= 0.13</text><text x="228" y="16">p&gt;0.9</text><text x="309" y="-4">c= -0.22</text><text x="309" y="16">p=0.3</text><text x="390" y="-4">c= -0.13</text><text x="390" y="16">p=0.7</text><text class="r" x="471" y="-4">c= 0.22</text><text class="r" x="471" y="16">p=0.2</text><text class="r" x="552" y="-4">c= -0.06</text><text class="r" x="552" y="16">p=0.8</text><text x="633" y="-4">c= 0.13</text><text x="633" y="16">p=0.061</text><text x="714" y="-4">c= 0.22</text><text x="714" y="16">p=0.3</text><text class="r" x="795" y="-4">c= 0.09</text><text class="r" x="795" y="16">p=0.6</text><text x="876" y="-4">c= 0.19</text><text x="876" y="16">p=0.9</text><text class="r" x="957" y="-4">c= -0.19</text><text class="r" x="957" y="16">p=0.6</text><text class="r" x="1038" y="-4">c= -0.44</text><text class="r" x="1038" y="16">p=0.074</text><text x="1119" y="-4">c= 0.25</text><text x="1119" y="16">p=0.5</text><text x="1200" y="-4">c= 0</text><text x="1200" y="16">p&gt;0.9</text><text x="1281" y="-4">c= 0.25</text><text x="1281" y="16">p=0.4</text><text x="1362" y="-4">c= 0.03</text><text x="1362" y="16">p&gt;0.9</text><text x="1443" y="-4">c= 0.25</text><text x="1443" y="16">p=0.6</text><text x="1524" y="-4">c= 0.19</text><text x="1524" y="16">p=0.7</text><text x="1605" y="-4">c= 0.19</text><text x="1605" y="16">p=0.6</text><text x="1686" y="-4">c= 0.03</text><text x="1686" y="16">p=0.9</text>
</g>
<g transform="translate(0,2066)">
<text x="228" y="-4">c= 0.04</text><text x="228" y="16">p&gt;0.9</text><text x="309" y="-4">c= -0.09</text><text x="309" y="16">p=0.6</text><text x="390" y="-4">c= 0.09</text><text x="390" y="16">p=0.8</text><text class="r" x="471" y="-4">c= -0.09</text><text class="r" x="471" y="16">p=0.6</text><text class="r" x="552" y="-4">c= -0.34</text><text class="r" x="552" y="16">p=0.2</text><text class="r" x="633" y="-4">c= -0.22</text><text class="r" x="633" y="16">p=0.6</text><text x="714" y="-4">c= -0.04</text><text x="714" y="16">p&gt;0.9</text><text x="795" y="-4">c= -0.26</text><text x="795" y="16">p=0.3</text><text x="876" y="-4">c= 0.04</text><text x="876" y="16">p=0.8</text><text x="957" y="-4">c= -0.34</text><text x="957" y="16">p=0.2</text><text x="1038" y="-4">c= -0.22</text><text x="1038" y="16">p=0.3</text><text x="1119" y="-4">c= 0.04</text><text x="1119" y="16">p=0.9</text><text x="1200" y="-4">c= -0.3</text><text x="1200" y="16">p=0.2</text><text x="1281" y="-4">c= -0.04</text><text x="1281" y="16">p=0.8</text><text x="1362" y="-4">c= -0.3</text><text x="1362" y="16">p=0.3</text><text x="1443" y="-4">c= 0.09</text><text x="1443" y="16">p&gt;0.9</text><text x="1524" y="-4">c= 0.04</text><text x="1524" y="16">p=0.9</text><text x="1605" y="-4">c= 0.04</text><text x="1605" y="16">p=0.9</text><text x="1686" y="-4">c= 0.34</text><text x="1686" y="16">p=0.3</text>
</g>
<g transform="translate(0,2147)">
<text x="228" y="-4">c= 0.21</text><text x="228" y="16">p=0.4</text><text x="309" y="-4">c= -0.12</text><text x="309" y="16">p=0.5</text><text x="390" y="-4">c= -0.09</text><text x="390" y="16">p=0.8</text><text x="471" y="-4">c= 0.19</text><text x="471" y="16">p=0.5</text><text x="552" y="-4">c= 0.18</text><text x="552" y="16">p=0.6</text><text x="633" y="-4">c= -0.22</text><text x="633" y="16">p=0.11</text><text x="714" y="-4">c= 0.18</text><text x="714" y="16">p=0.4</text><text x="795" y="-4">c= -0.32</text><text x="795" y="16">p=0.2</text><text x="876" y="-4">c= 0.15</text><text x="876" y="16">p=0.8</text><text x="957" y="-4">c= 0.26</text><text x="957" y="16">p=0.5</text><text x="1038" y="-4">c= 0.32</text><text x="1038" y="16">p=0.4</text><text x="1119" y="-4">c= 0.22</text><text x="1119" y="16">p=0.5</text><text class="w" x="1200" y="-4">c= -0.48</text><text class="w" x="1200" y="16">p=0.038</text><text x="1281" y="-4">c= 0.08</text><text x="1281" y="16">p=0.7</text><text class="w" x="1362" y="-4">c= -0.61</text><text class="w" x="1362" y="16">p=0.011</text><text x="1443" y="-4">c= 0.03</text><text x="1443" y="16">p=0.7</text><text x="1524" y="-4">c= 0.13</text><text x="1524" y="16">p=0.5</text><text x="1605" y="-4">c= 0.13</text><text x="1605" y="16">p=0.5</text><text x="1686" y="-4">c= 0.11</text><text x="1686" y="16">p=0.9</text>
</g>
<g transform="translate(0,2228)">
<text x="228" y="-4">c= 0.25</text><text x="228" y="16">p=0.3</text><text x="309" y="-4">c= -0.11</text><text x="309" y="16">p=0.5</text><text x="390" y="-4">c= -0.13</text><text x="390" y="16">p=0.5</text><text class="r" x="471" y="-4">c= 0.21</text><text class="r" x="471" y="16">p=0.5</text><text class="r" x="552" y="-4">c= 0.27</text><text class="r" x="552" y="16">p=0.4</text><text x="633" y="-4">c= -0.21</text><text x="633" y="16">p=0.093</text><text class="r" x="714" y="-4">c= 0.21</text><text class="r" x="714" y="16">p=0.2</text><text x="795" y="-4">c= -0.32</text><text x="795" y="16">p=0.072</text><text x="876" y="-4">c= 0.16</text><text x="876" y="16">p=0.6</text><text class="r" x="957" y="-4">c= 0.13</text><text class="r" x="957" y="16">p=0.9</text><text class="r" x="1038" y="-4">c= 0.43</text><text class="r" x="1038" y="16">p=0.090</text><text x="1119" y="-4">c= 0.28</text><text x="1119" y="16">p=0.3</text><text class="w" x="1200" y="-4">c= -0.41</text><text class="w" x="1200" y="16">p=0.047</text><text x="1281" y="-4">c= 0.05</text><text x="1281" y="16">p=0.8</text><text class="w" x="1362" y="-4">c= -0.64</text><text class="w" x="1362" y="16">p=0.003</text><text x="1443" y="-4">c= 0.01</text><text x="1443" y="16">p=0.8</text><text x="1524" y="-4">c= 0.1</text><text x="1524" y="16">p=0.5</text><text x="1605" y="-4">c= 0.1</text><text x="1605" y="16">p=0.6</text><text x="1686" y="-4">c= 0.19</text><text x="1686" y="16">p=0.5</text>
</g>
<g transform="translate(0,2309)">
<text x="228" y="-4">c= 0.06</text><text x="228" y="16">p=0.4</text><text x="309" y="-4">c= -0.04</text><text x="309" y="16">p=0.5</text><text x="390" y="-4">c= 0.09</text><text x="390" y="16">p&gt;0.9</text><text class="r" x="471" y="-4">c= 0.3</text><text class="r" x="471" y="16">p=0.2</text><text class="r" x="552" y="-4">c= 0.03</text><text class="r" x="552" y="16">p=0.7</text><text x="633" y="-4">c= -0.12</text><text x="633" y="16">p=0.4</text><text class="r" x="714" y="-4">c= -0.06</text><text class="r" x="714" y="16">p=0.8</text><text x="795" y="-4">c= -0.12</text><text x="795" y="16">p=0.4</text><text x="876" y="-4">c= 0.13</text><text x="876" y="16">p&gt;0.9</text><text class="r" x="957" y="-4">c= 0.51</text><text class="r" x="957" y="16">p=0.11</text><text class="r" x="1038" y="-4">c= 0.1</text><text class="r" x="1038" y="16">p&gt;0.9</text><text x="1119" y="-4">c= 0.01</text><text x="1119" y="16">p&gt;0.9</text><text x="1200" y="-4">c= -0.35</text><text x="1200" y="16">p=0.12</text><text x="1281" y="-4">c= 0.14</text><text x="1281" y="16">p=0.6</text><text x="1362" y="-4">c= -0.28</text><text x="1362" y="16">p=0.2</text><text x="1443" y="-4">c= 0.17</text><text x="1443" y="16">p=0.7</text><text x="1524" y="-4">c= 0.15</text><text x="1524" y="16">p=0.5</text><text x="1605" y="-4">c= 0.15</text><text x="1605" y="16">p=0.5</text><text x="1686" y="-4">c= -0.17</text><text x="1686" y="16">p=0.6</text>
</g>
<g transform="translate(0,2390)">
<text x="228" y="-4">c= -0.08</text><text x="228" y="16">p=0.8</text><text x="309" y="-4">c= 0.18</text><text x="309" y="16">p=0.4</text><text x="390" y="-4">c= 0.08</text><text x="390" y="16">p=0.4</text><text class="r" x="471" y="-4">c= -0.21</text><text class="r" x="471" y="16">p=0.3</text><text class="r" x="552" y="-4">c= -0.12</text><text class="r" x="552" y="16">p=0.6</text><text class="r" x="633" y="-4">c= -0.17</text><text class="r" x="633" y="16">p=0.2</text><text x="714" y="-4">c= 0.02</text><text x="714" y="16">p&gt;0.9</text><text class="r" x="795" y="-4">c= -0.17</text><text class="r" x="795" y="16">p=0.4</text><text x="876" y="-4">c= -0.02</text><text x="876" y="16">p&gt;0.9</text><text x="957" y="-4">c= -0.17</text><text x="957" y="16">p=0.4</text><text x="1038" y="-4">c= 0.26</text><text x="1038" y="16">p=0.3</text><text x="1119" y="-4">c= 0.06</text><text x="1119" y="16">p&gt;0.9</text><text x="1200" y="-4">c= -0.33</text><text x="1200" y="16">p=0.12</text><text x="1281" y="-4">c= -0.08</text><text x="1281" y="16">p=0.8</text><text x="1362" y="-4">c= -0.29</text><text x="1362" y="16">p=0.10</text><text x="1443" y="-4">c= -0.07</text><text x="1443" y="16">p=0.9</text><text x="1524" y="-4">c= 0.06</text><text x="1524" y="16">p=0.8</text><text x="1605" y="-4">c= 0.06</text><text x="1605" y="16">p=0.8</text><text x="1686" y="-4">c= 0.26</text><text x="1686" y="16">p=0.5</text>
</g>
<g transform="translate(0,2471)">
<text x="228" y="-4">c= 0.23</text><text x="228" y="16">p=0.3</text><text x="309" y="-4">c= -0.18</text><text x="309" y="16">p=0.2</text><text x="390" y="-4">c= -0.11</text><text x="390" y="16">p=0.6</text><text class="r" x="471" y="-4">c= 0.22</text><text class="r" x="471" y="16">p=0.4</text><text class="r" x="552" y="-4">c= 0.2</text><text class="r" x="552" y="16">p=0.5</text><text x="633" y="-4">c= -0.19</text><text x="633" y="16">p=0.13</text><text class="r" x="714" y="-4">c= 0.28</text><text class="r" x="714" y="16">p=0.2</text><text x="795" y="-4">c= -0.25</text><text x="795" y="16">p=0.2</text><text x="876" y="-4">c= 0.24</text><text x="876" y="16">p=0.6</text><text class="r" x="957" y="-4">c= 0.36</text><text class="r" x="957" y="16">p=0.2</text><text class="r" x="1038" y="-4">c= 0.2</text><text class="r" x="1038" y="16">p=0.6</text><text x="1119" y="-4">c= 0.31</text><text x="1119" y="16">p=0.3</text><text x="1200" y="-4">c= -0.4</text><text x="1200" y="16">p=0.074</text><text x="1281" y="-4">c= 0.16</text><text x="1281" y="16">p=0.5</text><text class="w" x="1362" y="-4">c= -0.54</text><text class="w" x="1362" y="16">p=0.012</text><text x="1443" y="-4">c= 0.12</text><text x="1443" y="16">p=0.5</text><text x="1524" y="-4">c= 0.2</text><text x="1524" y="16">p=0.4</text><text x="1605" y="-4">c= 0.2</text><text x="1605" y="16">p=0.4</text><text x="1686" y="-4">c= 0.06</text><text x="1686" y="16">p=0.9</text>
</g>
<g transform="translate(0,2552)">
<text x="228" y="-4">c= 0.02</text><text x="228" y="16">p=0.5</text><text x="309" y="-4">c= 0.01</text><text x="309" y="16">p=0.9</text><text x="390" y="-4">c= 0.07</text><text x="390" y="16">p=0.5</text><text x="471" y="-4">c= 0.34</text><text x="471" y="16">p=0.2</text><text x="552" y="-4">c= 0.1</text><text x="552" y="16">p=0.8</text><text x="633" y="-4">c= -0.26</text><text x="633" y="16">p=0.8</text><text x="714" y="-4">c= 0.13</text><text x="714" y="16">p=0.9</text><text x="795" y="-4">c= -0.12</text><text x="795" y="16">p=0.6</text><text x="876" y="-4">c= 0.34</text><text x="876" y="16">p=0.7</text><text x="957" y="-4">c= 0.3</text><text x="957" y="16">p=0.2</text><text x="1038" y="-4">c= -0.05</text><text x="1038" y="16">p=0.8</text><text x="1119" y="-4">c= 0.23</text><text x="1119" y="16">p=0.8</text><text x="1200" y="-4">c= 0.05</text><text x="1200" y="16">p=0.7</text><text x="1281" y="-4">c= 0.35</text><text x="1281" y="16">p=0.15</text><text x="1362" y="-4">c= -0.02</text><text x="1362" y="16">p&gt;0.9</text><text x="1443" y="-4">c= 0.53</text><text x="1443" y="16">p=0.12</text><text x="1524" y="-4">c= 0.12</text><text x="1524" y="16">p=0.9</text><text x="1605" y="-4">c= 0.12</text><text x="1605" y="16">p=0.9</text><text x="1686" y="-4">c= -0.09</text><text x="1686" y="16">p&gt;0.9</text>
</g>
<g transform="translate(0,2633)">
<text x="228" y="-4">c= -0.35</text><text x="228" y="16">p=0.12</text><text x="309" y="-4">c= 0.35</text><text x="309" y="16">p=0.2</text><text x="390" y="-4">c= 0.4</text><text x="390" y="16">p=0.080</text><text class="r" x="471" y="-4">c= -0.19</text><text class="r" x="471" y="16">p=0.5</text><text class="r" x="552" y="-4">c= -0.11</text><text class="r" x="552" y="16">p=0.9</text><text x="633" y="-4">c= -0.38</text><text x="633" y="16">p=0.8</text><text class="r" x="714" y="-4">c= -0.28</text><text class="r" x="714" y="16">p=0.3</text><text class="r" x="795" y="-4">c= -0.11</text><text class="r" x="795" y="16">p=0.9</text><text x="876" y="-4">c= -0.22</text><text x="876" y="16">p=0.3</text><text x="957" y="-4">c= -0.11</text><text x="957" y="16">p=0.4</text><text x="1038" y="-4">c= -0.05</text><text x="1038" y="16">p=0.7</text><text class="r" x="1119" y="-4">c= -0.2</text><text class="r" x="1119" y="16">p=0.3</text><text x="1200" y="-4">c= -0.28</text><text x="1200" y="16">p=0.2</text><text x="1281" y="-4">c= -0.24</text><text x="1281" y="16">p=0.6</text><text x="1362" y="-4">c= -0.06</text><text x="1362" y="16">p=0.8</text><text x="1443" y="-4">c= -0.15</text><text x="1443" y="16">p=0.5</text><text x="1524" y="-4">c= -0.25</text><text x="1524" y="16">p=0.3</text><text x="1605" y="-4">c= -0.25</text><text x="1605" y="16">p=0.3</text><text x="1686" y="-4">c= -0.09</text><text x="1686" y="16">p&gt;0.9</text>
</g>
<g transform="translate(0,2714)">
<text x="228" y="-4">c= 0.18</text><text x="228" y="16">p&gt;0.9</text><text x="309" y="-4">c= -0.03</text><text x="309" y="16">p&gt;0.9</text><text x="390" y="-4">c= -0.11</text><text x="390" y="16">p=0.7</text><text x="471" y="-4">c= 0.27</text><text x="471" y="16">p=0.2</text><text x="552" y="-4">c= -0.11</text><text x="552" y="16">p=0.8</text><text x="633" y="-4">c= -0.23</text><text x="633" y="16">p=0.7</text><text x="714" y="-4">c= 0.2</text><text x="714" y="16">p=0.5</text><text x="795" y="-4">c= -0.31</text><text x="795" y="16">p=0.3</text><text class="r" x="876" y="-4">c= 0.32</text><text class="r" x="876" y="16">p=0.4</text><text x="957" y="-4">c= -0.2</text><text x="957" y="16">p=0.6</text><text x="1038" y="-4">c= -0.01</text><text x="1038" y="16">p&gt;0.9</text><text x="1119" y="-4">c= 0.25</text><text x="1119" y="16">p=0.4</text><text class="r" x="1200" y="-4">c= 0.32</text><text class="r" x="1200" y="16">p=0.14</text><text x="1281" y="-4">c= 0.34</text><text x="1281" y="16">p=0.2</text><text class="r" x="1362" y="-4">c= 0.09</text><text class="r" x="1362" y="16">p=0.8</text><text x="1443" y="-4">c= 0.6</text><text x="1443" y="16">p=0.063</text><text x="1524" y="-4">c= 0.25</text><text x="1524" y="16">p=0.5</text><text x="1605" y="-4">c= 0.25</text><text x="1605" y="16">p=0.4</text><text x="1686" y="-4">c= 0.15</text><text x="1686" y="16">p=0.5</text>
</g>
<g transform="translate(0,2795)">
<text x="228" y="-4">c= 0.03</text><text x="228" y="16">p=0.7</text><text x="309" y="-4">c= 0.05</text><text x="309" y="16">p&gt;0.9</text><text x="390" y="-4">c= 0.11</text><text x="390" y="16">p=0.7</text><text x="471" y="-4">c= 0.27</text><text x="471" y="16">p=0.6</text><text x="552" y="-4">c= 0.11</text><text x="552" y="16">p=0.4</text><text x="633" y="-4">c= -0.39</text><text x="633" y="16">p=0.3</text><text x="714" y="-4">c= 0.04</text><text x="714" y="16">p&gt;0.9</text><text x="795" y="-4">c= -0.01</text><text x="795" y="16">p=0.9</text><text class="r" x="876" y="-4">c= 0.38</text><text class="r" x="876" y="16">p=0.14</text><text x="957" y="-4">c= 0.4</text><text x="957" y="16">p=0.2</text><text x="1038" y="-4">c= 0.32</text><text x="1038" y="16">p=0.2</text><text x="1119" y="-4">c= 0.24</text><text x="1119" y="16">p=0.13</text><text x="1200" y="-4">c= 0</text><text x="1200" y="16">p=0.7</text><text x="1281" y="-4">c= 0.4</text><text x="1281" y="16">p=0.053</text><text x="1362" y="-4">c= -0.19</text><text x="1362" y="16">p=0.4</text><text class="w" x="1443" y="-4">c= 0.42</text><text class="w" x="1443" y="16">p=0.045</text><text x="1524" y="-4">c= 0.19</text><text x="1524" y="16">p=0.2</text><text x="1605" y="-4">c= 0.19</text><text x="1605" y="16">p=0.2</text><text x="1686" y="-4">c= 0.2</text><text x="1686" y="16">p=0.7</text>
</g>
<g transform="translate(0,2876)">
<text x="228" y="-4">c= -0.18</text><text x="228" y="16">p=0.5</text><text x="309" y="-4">c= 0.07</text><text x="309" y="16">p=0.5</text><text class="r" x="390" y="-4">c= 0.06</text><text class="r" x="390" y="16">p&gt;0.9</text><text x="471" y="-4">c= 0.14</text><text x="471" y="16">p=0.4</text><text x="552" y="-4">c= 0.17</text><text x="552" y="16">p=0.5</text><text x="633" y="-4">c= -0.22</text><text x="633" y="16">p=0.5</text><text x="714" y="-4">c= -0.12</text><text x="714" y="16">p=0.7</text><text x="795" y="-4">c= -0.24</text><text x="795" y="16">p=0.4</text><text x="876" y="-4">c= -0.41</text><text x="876" y="16">p=0.2</text><text x="957" y="-4">c= -0.09</text><text x="957" y="16">p=0.051</text><text x="1038" y="-4">c= -0.08</text><text x="1038" y="16">p&gt;0.9</text><text x="1119" y="-4">c= -0.24</text><text x="1119" y="16">p=0.4</text><text class="w" x="1200" y="-4">c= -0.52</text><text class="w" x="1200" y="16">p=0.031</text><text x="1281" y="-4">c= -0.33</text><text x="1281" y="16">p=0.2</text><text class="r" x="1362" y="-4">c= -0.48</text><text class="r" x="1362" y="16">p=0.064</text><text x="1443" y="-4">c= -0.28</text><text x="1443" y="16">p=0.2</text><text x="1524" y="-4">c= -0.4</text><text x="1524" y="16">p=0.2</text><text x="1605" y="-4">c= -0.4</text><text x="1605" y="16">p=0.14</text><text x="1686" y="-4">c= 0.14</text><text x="1686" y="16">p=0.3</text>
</g>
<g transform="translate(0,2957)">
<text x="228" y="-4">c= -0.11</text><text x="228" y="16">p&gt;0.9</text><text x="309" y="-4">c= -0.28</text><text x="309" y="16">p=0.4</text><text class="r" x="390" y="-4">c= -0.1</text><text class="r" x="390" y="16">p&gt;0.9</text><text x="471" y="-4">c= 0.01</text><text x="471" y="16">p=0.8</text><text x="552" y="-4">c= 0</text><text x="552" y="16">p&gt;0.9</text><text x="633" y="-4">c= 0.15</text><text x="633" y="16">p=0.6</text><text x="714" y="-4">c= 0.08</text><text x="714" y="16">p=0.9</text><text x="795" y="-4">c= 0.31</text><text x="795" y="16">p=0.3</text><text x="876" y="-4">c= 0.13</text><text x="876" y="16">p=0.9</text><text class="w" x="957" y="-4">c= 0.54</text><text class="w" x="957" y="16">p=0.018</text><text x="1038" y="-4">c= -0.26</text><text x="1038" y="16">p=0.3</text><text x="1119" y="-4">c= -0.07</text><text x="1119" y="16">p=0.7</text><text x="1200" y="-4">c= -0.2</text><text x="1200" y="16">p=0.4</text><text x="1281" y="-4">c= 0.14</text><text x="1281" y="16">p=0.7</text><text class="r" x="1362" y="-4">c= 0.32</text><text class="r" x="1362" y="16">p=0.2</text><text x="1443" y="-4">c= 0.06</text><text x="1443" y="16">p&gt;0.9</text><text x="1524" y="-4">c= 0.01</text><text x="1524" y="16">p=0.8</text><text x="1605" y="-4">c= 0.01</text><text x="1605" y="16">p=0.8</text><text x="1686" y="-4">c= -0.44</text><text x="1686" y="16">p=0.054</text>
</g>
</g>
<!-- y axis -->
<g stroke="#333" stroke-width="2">
<line x1="173" y1="770" x2="180" y2="770"/><line x1="173" y1="851" x2="180" y2="851"/><line x1="173" y1="932" x2="180" y2="932"/><line x1="173" y1="1013" x2="180" y2="1013"/><line x1="173" y1="1094" x2="180" y2="1094"/><line x1="173" y1="1175" x2="180" y2="1175"/><line x1="173" y1="1256" x2="180" y2="1256"/><line x1="173" y1="1337" x2="180" y2="1337"/><line x1="173" y1="1418" x2="180" y2="1418"/><line x1="173" y1="1499" x2="180" y2="1499"/><line x1="173" y1="1580" x2="180" y2="1580"/><line x1="173" y1="1661" x2="180" y2="1661"/><line x1="173" y1="1742" x2="180" y2="1742"/><line x1="173" y1="1823" x2="180" y2="1823"/><line x1="173" y1="1904" x2="180" y2="1904"/><line x1="173" y1="1985" x2="180" y2="1985"/><line x1="173" y1="2066" x2="180" y2="2066"/><line x1="173" y1="2147" x2="180" y2="2147"/><line x1="173" y1="2228" x2="180" y2="2228"/><line x1="173" y1="2309" x2="180" y2="2309"/><line x1="173" y1="2390" x2="180" y2="2390"/><line x1="173" y1="2471" x2="180" y2="2471"/><line x1="173" y1="2552" x2="180" y2="2552"/><line x1="173" y1="2633" x2="180" y2="2633"/><line x1="173" y1="2714" x2="180" y2="2714"/><line x1="173" y1="2795" x2="180" y2="2795"/><line x1="173" y1="2876" x2="180" y2="2876"/><line x1="173" y1="2957" x2="180" y2="2957"/>
<line x1="228" y1="3005" x2="228" y2="3012"/><line x1="309" y1="3005" x2="309" y2="3012"/><line x1="390" y1="3005" x2="390" y2="3012"/><line x1="471" y1="3005" x2="471" y2="3012"/><line x1="552" y1="3005" x2="552" y2="3012"/><line x1="633" y1="3005" x2="633" y2="3012"/><line x1="714" y1="3005" x2="714" y2="3012"/><line x1="795" y1="3005" x2="795" y2="3012"/><line x1="876" y1="3005" x2="876" y2="3012"/><line x1="957" y1="3005" x2="957" y2="3012"/><line x1="1038" y1="3005" x2="1038" y2="3012"/><line x1="1119" y1="3005" x2="1119" y2="3012"/><line x1="1200" y1="3005" x2="1200" y2="3012"/><line x1="1281" y1="3005" x2="1281" y2="3012"/><line x1="1362" y1="3005" x2="1362" y2="3012"/><line x1="1443" y1="3005" x2="1443" y2="3012"/><line x1="1524" y1="3005" x2="1524" y2="3012"/><line x1="1605" y1="3005" x2="1605" y2="3012"/><line x1="1686" y1="3005" x2="1686" y2="3012"/>
</g>
<g class="ax" text-anchor="end">
<text x="167" y="778">F1 (overall)</text><text x="167" y="859">F1, 01</text><text x="167" y="940">F1, 02</text><text x="167" y="1021">F1, 03</text><text x="167" y="1102">F2 (overall)</text><text x="167" y="1183">F2, 04</text><text x="167" y="1264">F2, 05</text><text x="167" y="1345">F2, 06</text><text x="167" y="1426">F2, 07</text><text x="167" y="1507">F2, 08</text><text x="167" y="1588">F2, 09</text><text x="167" y="1669">F3 (overall)</text><text x="167" y="1750">F3, 10</text><text x="167" y="1831">F3, 11</text><text x="167" y="1912">F3, 12</text><text x="167" y="1993">F3, 13</text><text x="167" y="2074">F3, 14</text><text x="167" y="2155">F4 (overall)</text><text x="167" y="2236">F4, 15</text><text x="167" y="2317">F4, 16</text><text x="167" y="2398">F4, 17</text><text x="167" y="2479">F4, 18</text><text x="167" y="2560">F5 (overall)</text><text x="167" y="2641">F5, 19</text><text x="167" y="2722">F5, 20</text><text x="167" y="2803">F5, 21</text><text x="167" y="2884">F5, 22</text><text x="167" y="2965">F5, 23</text>
</g>
<g class="ax" text-anchor="end">
<text transform="translate(236,3018) rotate(-90)">FcT250</text><text transform="translate(317,3018) rotate(-90)">FLiT1000</text><text transform="translate(398,3018) rotate(-90)">FLiT250</text><text transform="translate(479,3018) rotate(-90)">IS</text><text transform="translate(560,3018) rotate(-90)">IV</text><text transform="translate(641,3018) rotate(-90)">L5m</text><text transform="translate(722,3018) rotate(-90)">L5mde</text><text transform="translate(803,3018) rotate(-90)">L5mn</text><text transform="translate(884,3018) rotate(-90)">LE</text><text transform="translate(965,3018) rotate(-90)">LLiT10</text><text transform="translate(1046,3018) rotate(-90)">LLiT250</text><text transform="translate(1127,3018) rotate(-90)">M10m</text><text transform="translate(1208,3018) rotate(-90)">MPratio</text><text transform="translate(1289,3018) rotate(-90)">PAT1000</text><text transform="translate(1370,3018) rotate(-90)">SCmelEDI</text><text transform="translate(1451,3018) rotate(-90)">TAT1000</text><text transform="translate(1532,3018) rotate(-90)">TAT250</text><text transform="translate(1613,3018) rotate(-90)">TATd250</text><text transform="translate(1694,3018) rotate(-90)">TBTe10</text>
</g>
<text x="957" y="3156" text-anchor="middle" font-family="Liberation Sans, sans-serif" font-size="28" fill="#000">Metrics</text>
<text transform="translate(35,1863) rotate(-90)" text-anchor="middle" font-family="Liberation Sans, sans-serif" font-size="28" fill="#000">LEBA questions and factors</text>
<!-- legend -->
<defs><linearGradient id="vir" x1="0" y1="1" x2="0" y2="0">
<stop offset="0" stop-color="#330042"/><stop offset="0.1" stop-color="#3a1d5c"/><stop offset="0.2" stop-color="#35386f"/><stop offset="0.3" stop-color="#2b4e72"/><stop offset="0.4" stop-color="#236475"/><stop offset="0.5" stop-color="#1f7b77"/><stop offset="0.6" stop-color="#239070"/><stop offset="0.7" stop-color="#3eaa62"/><stop offset="0.8" stop-color="#6cbd48"/><stop offset="0.9" stop-color="#a9cc24"/><stop offset="1" stop-color="#eadb1f"/>
</linearGradient></defs>
<text x="1778" y="1586" class="lg" font-size="28">(abs) Correlation</text>
<rect x="1778" y="1603" width="46" height="229" fill="url(#vir)"/>
<g stroke="#fff" stroke-width="1.5">
<line x1="1778" y1="1660" x2="1787" y2="1660"/><line x1="1815" y1="1660" x2="1824" y2="1660"/>
<line x1="1778" y1="1717" x2="1787" y2="1717"/><line x1="1815" y1="1717" x2="1824" y2="1717"/>
<line x1="1778" y1="1775" x2="1787" y2="1775"/><line x1="1815" y1="1775" x2="1824" y2="1775"/>
</g>
<g class="lg" font-size="23">
<text x="1840" y="1613">1.00</text><text x="1840" y="1670">0.75</text><text x="1840" y="1727">0.50</text><text x="1840" y="1785">0.25</text><text x="1840" y="1842">0.00</text>
</g>
<text x="1778" y="1916" class="lg" font-size="28">Relevance</text>
<rect x="1778" y="1934" width="46" height="230" fill="#e5e5e5"/>
<rect x="1780" y="2028" width="42" height="42" fill="#2b2b2b"/>
<rect x="1779" y="2073" width="44" height="44" fill="#2b2b2b" stroke="#ff0000" stroke-width="1.5"/>
<g font-family="Liberation Sans, sans-serif" font-size="11" font-weight="bold" text-anchor="middle">
<text x="1801" y="2053" fill="#fff">a</text><text x="1801" y="2099" fill="#ff0000">a</text><text x="1801" y="2145" fill="#b3b3b3">a</text>
</g>
<g class="lg" font-size="23">
<text x="1840" y="1965">Hypothesised and significant</text>
<text x="1840" y="2011">Hypothesised and (unadjusted) significant</text>
<text x="1840" y="2057">(unadjusted) Significant</text>
<text x="1840" y="2103">Hypothesised</text>
<text x="1840" y="2149">None</text>
</g>
</svg>
</body></html>
